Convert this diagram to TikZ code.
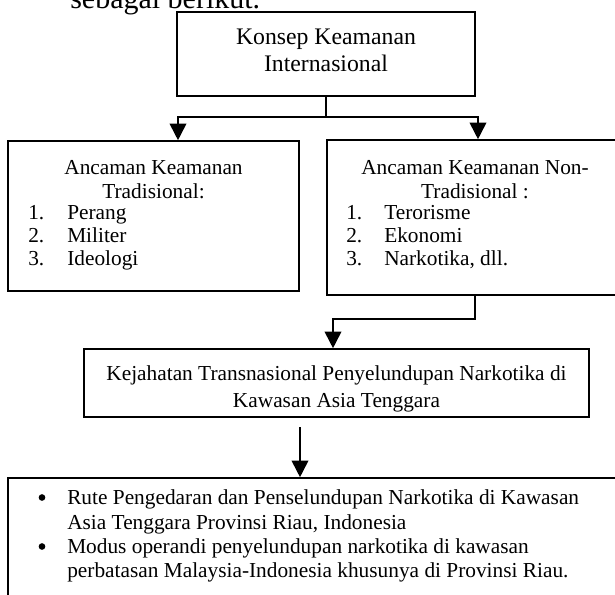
\documentclass[tikz,border=0pt]{standalone}
\usepackage{fontspec}
\setmainfont{Liberation Serif}
\usetikzlibrary{arrows.meta,fit}
\begin{document}
\begin{tikzpicture}[x=0.75pt,y=-0.75pt,
  boxs/.style={draw, line width=1.2pt, inner sep=0pt},
  txt/.style={inner sep=0pt, anchor=base, font=\fontsize{16}{19}\selectfont},
  txtl/.style={txt, anchor=base west},
  bigtxt/.style={txt, font=\fontsize{17.8}{21}\selectfont},
  dotb/.style={circle, fill, inner sep=0pt, minimum size=5pt},
  conn/.style={draw, line width=1.3pt},
  arr/.style={conn, -{Triangle[width=12.5pt,length=12.5pt]}}]
\useasboundingbox (0,0) rectangle (615,594);
\node[inner sep=0pt, anchor=base west, font=\fontsize{22.5}{26}\selectfont] (intro) at (70,8) {sebagai berikut.};
% boxes
\node[boxs, fit={(177,12) (475,96)}] (konsep) {};
\node[boxs, fit={(8,141) (299,291)}] (trad) {};
\node[boxs, fit={(327,140) (623,295)}] (nontrad) {};
\node[boxs, fit={(84,349) (589,417)}] (kej) {};
\node[boxs, fit={(8,478) (625,610)}] (hasil) {};
% texts
\node[bigtxt] (k1) at (326,44) {Konsep Keamanan};
\node[bigtxt] (k2) at (326,71) {Internasional};
\node[txt] (t1) at (153.5,174) {Ancaman Keamanan};
\node[txt] (t2) at (153.5,198) {Tradisional:};
\node[txtl] (t3n) at (28,219) {1.};
\node[txtl] (t3) at (67,219) {Perang};
\node[txtl] (t4n) at (28,242) {2.};
\node[txtl] (t4) at (67,242) {Militer};
\node[txtl] (t5n) at (28,265) {3.};
\node[txtl] (t5) at (67,265) {Ideologi};
\node[txt] (n1) at (475,174) {Ancaman Keamanan Non-};
\node[txt] (n2) at (475,198) {Tradisional :};
\node[txtl] (n3n) at (346,219) {1.};
\node[txtl] (n3) at (384,219) {Terorisme};
\node[txtl] (n4n) at (346,242) {2.};
\node[txtl] (n4) at (384,242) {Ekonomi};
\node[txtl] (n5n) at (346,265) {3.};
\node[txtl] (n5) at (384,265) {Narkotika, dll.};
\node[txt] (j1) at (336.5,380) {Kejahatan Transnasional Penyelundupan Narkotika di};
\node[txt] (j2) at (336.5,407) {Kawasan Asia Tenggara};
\node[dotb] (b1) at (42,497.5) {};
\node[txtl] (h1) at (67,504) {Rute Pengedaran dan Penselundupan Narkotika di Kawasan};
\node[txtl] (h2) at (67,529) {Asia Tenggara Provinsi Riau, Indonesia};
\node[dotb] (b2) at (42,546.5) {};
\node[txtl] (h3) at (67,553) {Modus operandi penyelundupan narkotika di kawasan};
\node[txtl] (h4) at (67,577) {perbatasan Malaysia-Indonesia khusunya di Provinsi Riau.};
% connectors
\coordinate (jc) at (326,117);
\coordinate (jl) at (178,117);
\coordinate (jr) at (478,117);
\draw[arr] (konsep.south) -- (jc) -| (jl |- trad.north);
\draw[arr] (jc) -| (jr |- nontrad.north);
\coordinate (jk) at (333,319);
\draw[arr] (nontrad.south) |- (jk) -- (jk |- kej.north);
\coordinate (a3) at (300,427);
\draw[arr] (a3) -- (a3 |- hasil.north);
\end{tikzpicture}
\end{document}
